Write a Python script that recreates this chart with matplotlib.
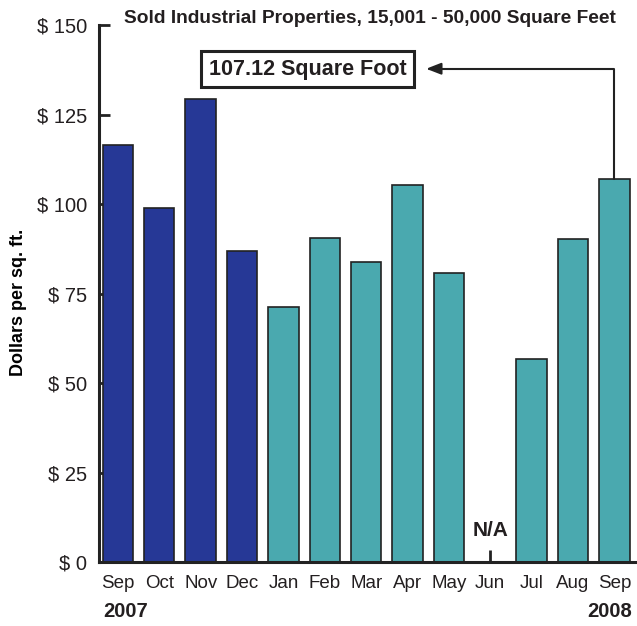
import matplotlib
matplotlib.use("Agg")
import matplotlib.pyplot as plt
from matplotlib import font_manager as fm
import numpy as np

# ---- data ----
months = ["Sep", "Oct", "Nov", "Dec", "Jan", "Feb", "Mar", "Apr", "May", "Jun", "Jul", "Aug", "Sep"]
values = [116.4, 98.9, 129.3, 86.8, 71.4, 90.6, 83.9, 105.4, 80.9, None, 56.8, 90.2, 107.12]
year_2007 = [True, True, True, True, False, False, False, False, False, False, False, False, False]
yticks = [0, 25, 50, 75, 100, 125, 150]
ytick_labels = ["$ 0", "$ 25", "$ 50", "$ 75", "$ 100", "$ 125", "$ 150"]
title = "Sold Industrial Properties, 15,001 - 50,000 Square Feet"
ylabel = "Dollars per sq. ft."
callout = "107.12 Square Foot"
na_label = "N/A"
start_year = "2007"
end_year = "2008"

NAVY = "#263896"
TEAL = "#4AA9AF"
EDGE = "#222222"
TXT = "#231f20"

names = {f.name for f in fm.fontManager.ttflist}
fam = "Liberation Sans Narrow" if "Liberation Sans Narrow" in names else "Liberation Sans"
plt.rcParams["font.family"] = [fam, "DejaVu Sans"]
plt.rcParams["text.color"] = TXT

fig = plt.figure(figsize=(6.37, 6.26), dpi=100)
ax = fig.add_axes([0.1559, 0.1018, 0.841, 0.8582])

x = np.arange(len(months))
for i, v in enumerate(values):
    if v is None:
        continue
    ax.bar(x[i], v, width=0.733, color=NAVY if year_2007[i] else TEAL,
           edgecolor=EDGE, linewidth=1.2, zorder=2)

ax.set_xlim(-0.45, 12.5)
ax.set_ylim(0, 150)

for s in ["top", "right"]:
    ax.spines[s].set_visible(False)
for s in ["left", "bottom"]:
    ax.spines[s].set_linewidth(2.2)
    ax.spines[s].set_color(EDGE)
    ax.spines[s].set_zorder(3)

ax.set_yticks(yticks)
ax.set_yticklabels(ytick_labels)
ax.tick_params(axis="y", direction="in", length=8, width=2, color=EDGE,
               labelsize=14.5, pad=9, labelcolor=TXT)
ax.set_xticks(x)
ax.set_xticklabels(months)
ax.tick_params(axis="x", length=0, labelsize=13.5, pad=9, labelcolor=TXT)

ax.set_ylabel(ylabel, fontsize=13, fontweight="bold")
ax.yaxis.set_label_coords(-0.135, 0.483)

fig.text(0.58, 0.971, title, ha="center", va="center", fontsize=13.8, fontweight="bold")

# year labels
ax.text(0.007, -0.092, start_year, transform=ax.transAxes, ha="left", va="center",
        fontsize=14.5, fontweight="bold")
ax.text(0.9935, -0.092, end_year, transform=ax.transAxes, ha="right", va="center",
        fontsize=14.5, fontweight="bold")

# N/A marker
for i, v in enumerate(values):
    if v is None:
        ax.vlines(x[i], 0, 3.4, color=EDGE, linewidth=2, zorder=3)
        ax.text(x[i], 9.0, na_label, ha="center", va="center", fontsize=15, fontweight="bold")

# callout with arrow
last = len(values) - 1
ax.annotate("", xy=(7.45, 137.8), xytext=(x[last], values[last]),
            arrowprops=dict(arrowstyle="-|>,head_length=0.9,head_width=0.35",
                            connectionstyle="angle,angleA=90,angleB=0,rad=0",
                            color=EDGE, linewidth=1.5, shrinkA=0, shrinkB=0))
ax.text(4.58, 137.6, callout, ha="center", va="center", fontsize=15.5, fontweight="bold",
        bbox=dict(boxstyle="square,pad=0.35", facecolor="white", edgecolor=EDGE, linewidth=2.2))

fig.savefig("out.png", dpi=100)
